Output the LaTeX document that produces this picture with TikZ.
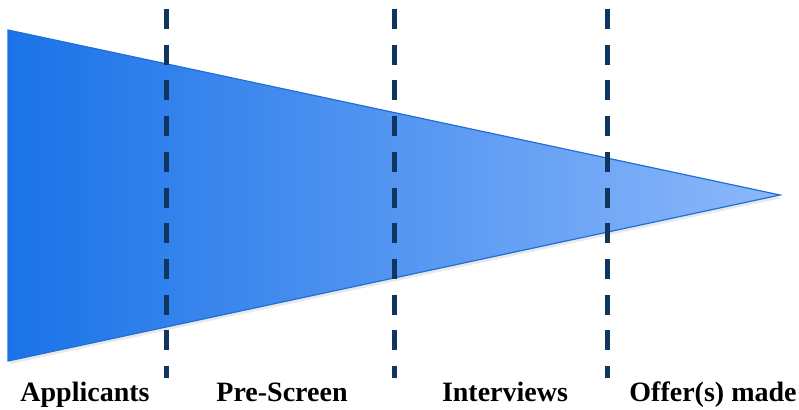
\documentclass[tikz,border=0pt]{standalone}
\usepackage{fontspec}
\setmainfont{Liberation Serif}
\usetikzlibrary{calc}
\definecolor{funnelL}{HTML}{1A73E8}
\definecolor{funnelR}{HTML}{8DB8FA}
\definecolor{funnelEdge}{HTML}{1E6FD9}
\definecolor{dashcol}{HTML}{0E365F}
\tikzset{
  divider/.style={draw=dashcol, line width=5pt, dash pattern=on 20pt off 15.7pt},
  stage/.style={font=\bfseries\fontsize{28}{30}\selectfont, anchor=base, text=black, inner sep=0pt}
}
\begin{document}
\begin{tikzpicture}[x=1pt,y=-1pt]
\useasboundingbox (0,0) rectangle (799,409);
\coordinate (tl) at (8,30);
\coordinate (bl) at (8,361);
\coordinate (apex) at (780,195);
% soft shadow
\fill[black!25, opacity=0.35] ($(tl)+(2,3)$) -- ($(apex)+(2,3)$) -- ($(bl)+(2,3)$) -- cycle;
\shade[left color=funnelL, right color=funnelR] (tl) -- (apex) -- (bl) -- cycle;
\draw[funnelEdge, line width=1.2pt, line join=miter] (tl) -- (apex) -- (bl) -- cycle;
% dividers
\coordinate (d1t) at (166,9); \coordinate (d1b) at (166,378);
\coordinate (d2t) at (394,9); \coordinate (d2b) at (394,378);
\coordinate (d3t) at (607,9); \coordinate (d3b) at (607,378);
\draw[divider] (d1t) -- (d1b);
\draw[divider] (d2t) -- (d2b);
\draw[divider] (d3t) -- (d3b);
% labels
\node[stage] (s1) at (85,401) {Applicants};
\node[stage] (s2) at (282,401) {Pre-Screen};
\node[stage] (s3) at (505,401) {Interviews};
\node[stage] (s4) at (713,401) {Offer(s) made};
\end{tikzpicture}
\end{document}
